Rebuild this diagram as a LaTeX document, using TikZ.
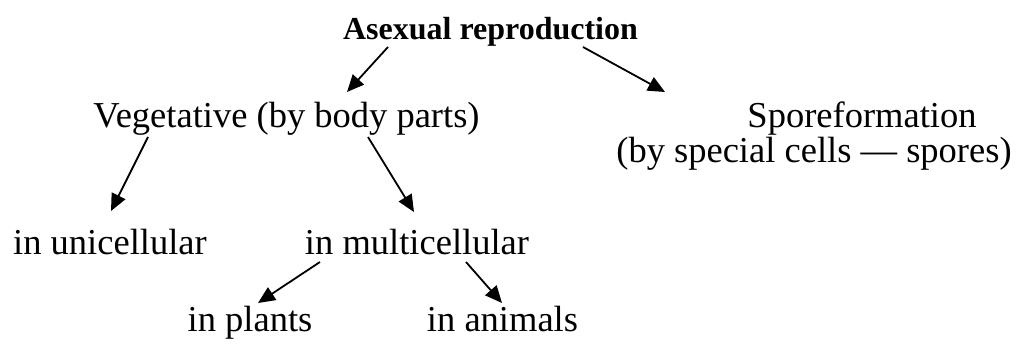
\documentclass[tikz,border=0pt]{standalone}
\usepackage{fontspec}
\setmainfont{Liberation Serif}
\usetikzlibrary{arrows.meta}

\begin{document}
\begin{tikzpicture}[x=1pt, y=-1pt,
  lbl/.style={anchor=base, inner sep=0pt, font=\fontsize{36.5}{40}\selectfont},
  ttl/.style={anchor=base, inner sep=0pt, font=\fontsize{32}{36}\selectfont\bfseries},
  arr/.style={-{Triangle[length=17pt, width=15pt]}, line width=1.8pt}]
  \useasboundingbox (0,0) rectangle (1023,345);
  % levels of the tree
  \node[ttl] (asex) at (490.5,40) {Asexual reproduction};
  \node[lbl] (veg) at (286.5,128) {Vegetative (by body parts)};
  \node[lbl] (spore) at (862,127) {Sporeformation};
  \node[lbl] (sporecells) at (814,162) {(by special cells --- spores)};
  \node[lbl] (unicell) at (110,254) {in unicellular};
  \node[lbl] (multicell) at (417,254) {in multicellular};
  \node[lbl] (plants) at (250,331) {in plants};
  \node[lbl] (animals) at (502.5,331) {in animals};
  % arrows
  \draw[arr] ([shift={(-102.5,7)}]asex.base) -- ([shift={(60.5,-36)}]veg.base);
  \draw[arr] ([shift={(92.5,7)}]asex.base) -- ([shift={(-197,-35)}]spore.base);
  \draw[arr] ([shift={(-138.5,9)}]veg.base) -- ([shift={(1,-43)}]unicell.base);
  \draw[arr] ([shift={(81.5,9)}]veg.base) -- ([shift={(-3,-42)}]multicell.base);
  \draw[arr] ([shift={(-97,8)}]multicell.base) -- ([shift={(8,-28)}]plants.base);
  \draw[arr] ([shift={(49,8)}]multicell.base) -- ([shift={(-0.5,-28)}]animals.base);
\end{tikzpicture}
\end{document}
